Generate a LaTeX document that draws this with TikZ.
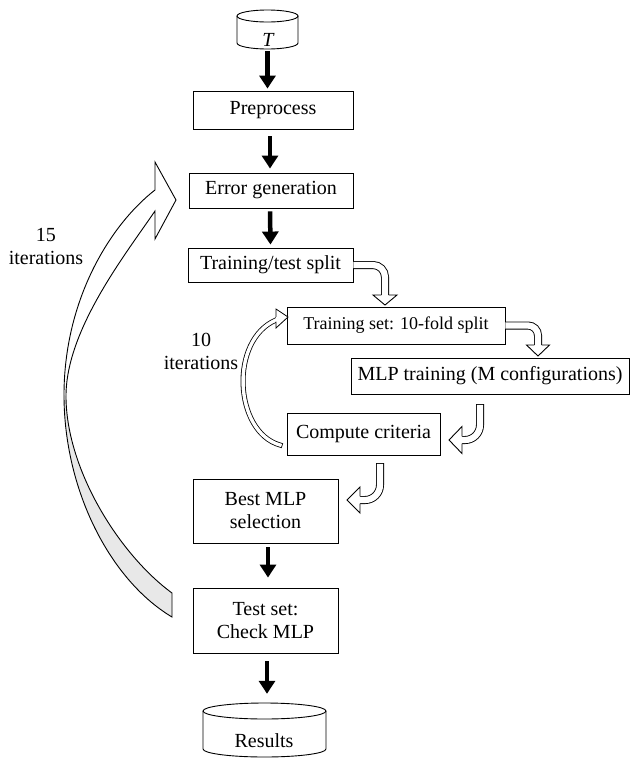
\documentclass[tikz,border=0pt]{standalone}
\usepackage{fontspec}
\setmainfont{Liberation Serif}
\usetikzlibrary{arrows.meta,calc}
\begin{document}
\begin{tikzpicture}[x=1pt,y=-1pt,
  box/.style={draw, line width=0.9pt, inner sep=0pt, align=center, font=\fontsize{20}{23}\selectfont},
  blk/.style={line width=4.5pt, -{Triangle[width=16pt,length=13pt]}},
  hol/.style={draw=black, line width=0.9pt, double=white, double distance=6.2pt},
  hol2/.style={draw=black, line width=0.8pt, double=white, double distance=3.4pt},
  hl/.style={line width=0.9pt, line join=miter},
  lbl/.style={align=center, font=\fontsize{20}{23}\selectfont},
]
\useasboundingbox (0,0) rectangle (630,761);

% cylinders (drawn shapes) with text nodes
\node[inner sep=0pt, minimum width=61pt, minimum height=39pt] (T) at (267.5,29.5) {};
\node[font=\fontsize{20}{23}\selectfont\itshape, inner sep=0pt] (Tt) at (268,40) {T};
\draw[line width=0.9pt] (267.5,16) ellipse[x radius=30.5, y radius=6];
\draw[line width=0.9pt] (237,16) -- (237,43) .. controls (237,46.3) and (250.7,49) .. (267.5,49)
  .. controls (284.3,49) and (298,46.3) .. (298,43) -- (298,16);

\node[inner sep=0pt, minimum width=123pt, minimum height=54pt] (res) at (264.5,730) {};
\node[font=\fontsize{20}{23}\selectfont, inner sep=0pt] (rest) at (264,741) {Results};
\draw[line width=0.9pt] (264.5,711) ellipse[x radius=61.5, y radius=8];
\draw[line width=0.9pt] (203,711) -- (203,749) .. controls (203,753.4) and (230.5,757) .. (264.5,757)
  .. controls (298.5,757) and (326,753.4) .. (326,749) -- (326,711);

% boxes
\node[box, minimum width=160pt, minimum height=38pt] (pre) at (273,110) {Preprocess};
\node[box, minimum width=164pt, minimum height=35pt] (err) at (271,190.5) {Error generation};
\node[box, minimum width=165pt, minimum height=34pt] (tts) at (270.5,265) {Training/test split};
\node[box, minimum width=218pt, minimum height=37pt, font=\fontsize{18}{21}\selectfont] (ts) at (396,325.5) {Training set: 10-fold split};
\node[box, minimum width=278pt, minimum height=36pt] (mlp) at (490,376) {MLP training (M configurations)};
\node[box, minimum width=153pt, minimum height=42pt] (cc) at (363.5,434) {Compute criteria};
\node[box, minimum width=145pt, minimum height=64pt] (best) at (265.5,511) {Best MLP\\selection};
\node[box, minimum width=145pt, minimum height=65pt] (test) at (265.5,620.5) {Test set:\\Check MLP};

% labels
\node[lbl] (l15) at (46,246) {15\\iterations};
\node[lbl] (l10) at (201,351) {10\\iterations};

% black arrows
\draw[blk, shorten <=2pt, shorten >=2pt] (T.south) -- (T.south |- pre.north);
\draw[blk, shorten <=7pt, shorten >=4pt] ($(pre.south)+(-3,0)$) -- ($(err.north)+(-1,0)$);
\draw[blk, shorten <=3pt, shorten >=3pt] ($(err.south)+(-1,0)$) -- (tts.north);
\draw[blk, shorten <=4pt, shorten >=10pt] ($(best.south)+(2.5,0)$) -- ($(test.north)+(2.5,0)$);
\draw[blk, shorten <=8pt, shorten >=9pt] ($(test.south)+(1.5,0)$) -- ($(res.north)+(2.5,0)$);

% hollow arrow 1: tts -> ts
\draw[hol, rounded corners=12pt] (tts.east) -- (385,265) -- (385,296);
\fill[white] (373,295) -- (385,305) -- (397,295) -- cycle;
\draw[hl] (381.45,295) -- (373,295) -- (385,305) -- (397,295) -- (388.55,295);

% hollow arrow 2: ts -> mlp
\draw[hol, rounded corners=10pt] (ts.east) -- (538,325.5) -- (538,346);
\fill[white] (526.5,345) -- (538,356) -- (549.5,345) -- cycle;
\draw[hl] (534.45,345) -- (526.5,345) -- (538,356) -- (549.5,345) -- (541.55,345);

% hollow arrow 3: mlp -> cc
\draw[hol, line cap=rect, rounded corners=15pt] (480,408) -- (480,440) -- (463,440);
\fill[white] (462,426.5) -- (449,440) -- (462,453.5) -- cycle;
\draw[hl] (462,436.45) -- (462,426.5) -- (449,440) -- (462,453.5) -- (462,443.55);

% hollow arrow 4: cc -> best
\draw[hol, line cap=rect, rounded corners=15pt] (380,467) -- (380,500) -- (361,500);
\fill[white] (360,487) -- (347,500) -- (360,513) -- cycle;
\draw[hl] (360,496.45) -- (360,487) -- (347,500) -- (360,513) -- (360,503.55);

% hollow arrow 5: 10 iterations loop
\draw[hol2, line cap=rect] (280,445) .. controls (234,432) and (229,340) .. (276,320);
\fill[white] (276,309) -- (288,317) -- (276,328) -- cycle;
\draw[hl, line width=0.8pt] (276,316.8) -- (276,309) -- (288,317) -- (276,328) -- (276,321.6);

% big ribbon arrow: 15 iterations
\fill[black!9] (66,396) .. controls (66,470) and (120,555) .. (172,593) -- (172,617)
  .. controls (110,580) and (64,490) .. (64,395) -- cycle;
\draw[line width=0.9pt, line join=miter] (155,190) -- (155,162) -- (176,200) -- (155,239) -- (155,211)
  .. controls (125,255) and (66,330) .. (66,396)
  .. controls (66,470) and (120,555) .. (172,593)
  -- (172,617)
  .. controls (110,580) and (64,490) .. (64,395)
  .. controls (64,300) and (110,225) .. (155,190) -- cycle;
\end{tikzpicture}
\end{document}
